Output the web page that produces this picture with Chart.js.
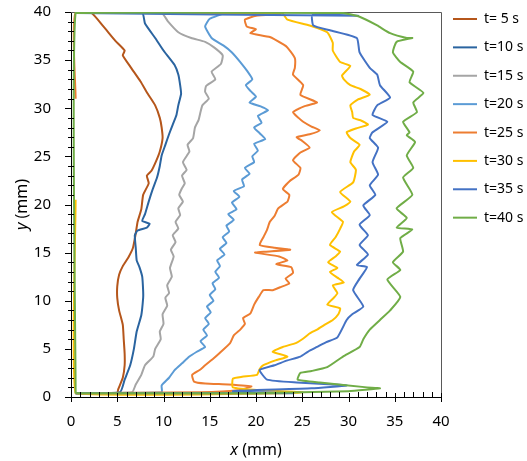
<!DOCTYPE html>
<html>
<head>
<meta charset="utf-8">
<script src="https://cdn.jsdelivr.net/npm/chart.js@4.4.1/dist/chart.umd.min.js"></script>
<style>
  html, body { margin: 0; background: #fff; }
  #wrap { width: 527px; height: 461px; }
</style>
</head>
<body>
<div id="wrap"><canvas id="chart"></canvas></div>
<script>
// front positions [x mm, y mm] (top -> bottom, then along the edges)
const labels = ["t= 5 s", "t=10 s", "t=15 s", "t=20 s", "t=25 s", "t=30 s", "t=35 s", "t=40 s"];
const colors = ["#B5561B", "#2A64A0", "#A5A5A5", "#5B9BD5", "#ED7D31", "#FFC000", "#4472C4", "#70AD47"];
const xTicks = [0, 5, 10, 15, 20, 25, 30, 35, 40];
const yTicks = [0, 5, 10, 15, 20, 25, 30, 35, 40];

const t5 = [[0.5,39.9],[2.2,39.9],[3.5,38.5],[4.8,37],[5.8,36],[5.6,35.5],[6.5,34.2],[7.5,32.8],[8.3,31.5],[9.1,30.3],
  [9.6,29],[9.8,28],[9.9,26.9],[9.6,25.5],[9.2,24.5],[8.7,23.5],[8.2,23],[8.4,22.2],[7.8,21],[7.6,19.5],[7.2,18.2],
  [7.0,17],[6.7,15.5],[6.2,14.5],[5.6,13.6],[5.2,12.7],[5.0,11.5],[5.0,10.3],[5.2,9],[5.6,7.5],[5.7,6],[5.8,4.5],
  [5.8,3.3],[5.6,2],[5.1,0.8],[5.0,0.4],[0.5,0.4]];
const t10 = [[0.5,39.9],[7.7,39.9],[8.0,38.8],[9.1,37.3],[10.0,36],[11.2,34.5],[11.6,33.5],[11.8,32.4],[11.9,31.5],
  [11.6,30.3],[11.4,29.3],[11.0,28.3],[10.6,27.3],[10.2,26.2],[9.8,25.1],[9.6,24],[9.3,22.8],[8.8,21.5],[8.4,20.3],
  [8.0,19],[7.7,18.3],[8.5,18.0],[8.2,17.6],[7.2,17.3],[6.9,16.8],[7.0,15.5],[7.1,14.2],[7.4,13.5],[7.7,12.5],
  [7.8,11],[7.8,10.3],[7.6,8.5],[7.1,6.8],[6.8,5],[6.4,3.3],[5.8,1.8],[5.3,0.5],[0.5,0.4]];
const t15 = [[0.5,39.9],[9.8,39.9],[10.5,39],[11.6,37.9],[13,37.3],[14.5,36.9],[15.5,36.3],[16.4,35.5],[16.2,34.6],
  [15.2,33.8],[15.6,33],[14.6,32.3],[14.5,31.7],[14.9,31],[14.2,30.3],[14.0,29.6],[13.8,28.8],[13.4,28],[13.2,26.9],
  [12.6,26.2],[12.8,25.5],[12.1,24.4],[12.5,23.6],[12.0,23],[12.3,22.2],[12.0,21.7],[11.7,21],[12.1,20.3],[11.6,19.6],
  [11.8,18.9],[11.3,18.2],[11.6,17.5],[11.0,16.8],[11.3,16.1],[10.8,15.3],[11.1,14.6],[10.7,13.4],[10.9,12.5],
  [10.4,11.6],[10.6,10.8],[10.2,10.3],[10.4,9.5],[9.9,8.6],[10.0,7.6],[9.6,6.8],[9.7,6],[9.1,5],[8.9,4.2],[8.0,3.3],
  [7.6,2.3],[7.0,1.3],[6.6,0.5],[0.5,0.4]];
const t20 = [[0.5,39.9],[16.5,39.9],[15.0,39.3],[14.5,38.5],[15.2,37.3],[16.5,36.5],[17.4,35.8],[18.3,34.8],[19.1,33.8],
  [19.6,33],[18.9,32.4],[19.4,31.8],[20.0,31.2],[19.3,30.6],[20.5,30.2],[21.3,29.8],[20.2,29.2],[20.6,28.5],[19.8,28],
  [20.4,27.4],[21.0,26.8],[19.8,26.3],[20.2,25.6],[19.6,25],[19.8,24.4],[18.8,23.8],[19.3,23.2],[18.5,22.6],[18.7,21.9],
  [17.6,21.4],[18.2,20.8],[17.4,20.2],[17.9,19.5],[17.0,19],[17.6,18.4],[16.8,17.8],[17.1,17.2],[16.4,16.6],[16.8,16],
  [16.1,15.4],[16.6,14.8],[15.8,14.2],[16.1,13.6],[15.6,13],[16.0,12.4],[15.3,11.8],[15.6,11.2],[15.0,10.6],[15.4,10],
  [14.7,9.4],[15.1,8.8],[14.5,8.2],[14.9,7.6],[14.3,7],[14.7,6.4],[14.0,5.8],[14.5,5.2],[13.6,4.7],[12.8,4.2],
  [12.0,3.5],[11.2,2.8],[10.6,2.0],[9.8,1.2],[9.8,0.5],[0.5,0.4]];
const t25 = [[0.5,31],[0.5,39.9],[22.6,39.8],[20.0,39.6],[18.8,39.2],[19.0,38.5],[20.0,38.2],[19.4,37.8],[21.5,37.4],
  [23.0,36.6],[23.4,36.3],[24.2,35.2],[24.2,34.2],[24.0,33.5],[25.1,32.4],[24.8,31.4],[26.6,30.6],[25.2,30.2],
  [24.0,29.6],[24.6,29],[25.1,28.6],[26.0,28.1],[26.9,27.7],[25.8,27.3],[24.4,27.0],[25.0,26.6],[25.8,25.9],
  [24.8,25.4],[24.0,24.6],[24.8,23.8],[24.6,23.1],[23.6,22.4],[22.9,21.6],[23.6,21],[23.4,20.3],[22.4,19.6],
  [22.0,18.8],[21.5,18.2],[21.2,17.4],[20.8,16.6],[20.4,15.8],[22.0,15.5],[23.7,15.3],[21.0,15.1],[19.9,15.0],
  [22.5,14.6],[23.4,14.2],[22.2,13.8],[23.8,13.5],[24.0,12.9],[23.2,12.3],[23.6,11.8],[22.6,11.4],[21.8,11.1],
  [20.8,11.1],[20.3,10.4],[19.8,9.6],[19.4,8.7],[18.6,8.2],[18.8,7.6],[18.3,7],[17.6,6.4],[17.2,5.6],[16.1,4.6],
  [15.4,4.0],[14.5,3.3],[13.9,2.8],[13.1,2.3],[13.3,1.6],[14.5,1.4],[17.0,1.3],[19.5,1.1],[18.0,0.7],[14,0.5],[0.5,0.4]];
const t30 = [[0.5,39.9],[22.8,39.9],[23.4,39.2],[25.8,38.6],[27.7,37.9],[28.3,36.8],[28.3,36.0],[29.1,34.8],[30.2,34.4],
  [29.3,33.4],[29.5,33.0],[30.2,32.4],[31.3,32.0],[32.3,31.4],[31.0,30.9],[30.2,30.3],[30.4,29.6],[30.5,29.0],
  [31.4,28.7],[32.1,28.3],[30.8,27.9],[29.8,27.5],[30.2,26.9],[31.2,26.2],[30.6,25.5],[30.2,24.4],[30.8,23.6],
  [30.5,22.3],[29.1,21.3],[30.2,20.3],[29.5,19.8],[28.2,19.2],[29.4,18.2],[29.1,17.5],[28.6,16.6],[28.0,15.8],
  [29.1,15.1],[28.6,14.6],[27.8,14.0],[28.8,13.4],[28.0,13.0],[28.8,12.4],[29.5,11.9],[28.3,11.6],[28.8,10.8],
  [28.4,10.3],[27.7,9.6],[29.1,9.2],[28.9,8.6],[28.3,8.0],[27.4,7.5],[26.6,7.0],[25.8,6.6],[25.0,6.0],[24.3,5.6],
  [22.9,5.2],[21.8,4.7],[23.4,4.2],[22.1,3.8],[20.8,3.3],[20.4,2.9],[20.1,2.3],[18.5,2.1],[17.5,1.9],[17.5,1.0],
  [20.5,0.7],[25.0,0.5],[23,0.4],[0.5,0.4],[0.5,20.5]];
const t35 = [[0.5,39.9],[31.0,39.6],[26.1,39.7],[26.2,38.6],[28.0,38.1],[30.9,37.3],[31.2,35.8],[32.3,34.2],[33.1,33.5],
  [33.4,32.4],[34.5,31.1],[33.1,30.3],[32.6,29.3],[34.2,28.6],[32.6,27.5],[32.3,26.9],[33.2,25.9],[32.6,24.4],
  [33.2,23.1],[32.3,22],[32.9,21],[31.6,19.9],[32.3,18.9],[31.2,17.9],[32.1,16.8],[31.2,15.8],[32.1,14.8],[30.9,13.7],
  [32.0,13.5],[31.2,12.3],[30.5,11.1],[31.6,9.4],[30.4,8.6],[29.8,8.0],[28.8,6.2],[27.6,5.7],[26.6,5.2],[25.6,4.7],
  [24.8,4.2],[23.4,3.8],[22.0,3.3],[20.4,2.8],[21.2,1.8],[24.4,1.5],[28.3,1.3],[29.8,1.2],[26,0.9],[17.5,0.6],
  [24,0.4],[0.5,0.4]];
const t40 = [[0.5,0.4],[0.5,39.9],[29.4,39.9],[31.2,39.5],[33.1,38.6],[34.5,37.8],[36.3,37.3],[36.9,37.3],[35.2,36.9],
  [34.8,35.8],[35.6,34.8],[37.0,33.8],[36.6,32.7],[38.1,31.6],[37.0,30.6],[37.4,29.6],[35.9,28.6],[36.6,27.5],
  [36.3,27.2],[37.2,26.5],[36.3,25.1],[37.0,23.8],[35.9,22.8],[36.9,21],[35.2,19.6],[36.3,18.6],[35.2,17.6],
  [36.9,17.4],[35.6,16.5],[35.9,15.1],[34.8,14],[35.6,13.2],[34.2,12.2],[35.6,10.4],[34.5,9],[33.4,8],[32.3,7],
  [31.6,6],[31.2,5.2],[29.4,4.2],[27.7,3.1],[26.0,2.7],[24.8,2.5],[24.5,1.8],[26.9,1.5],[32.0,1.0],[33.4,0.9],
  [30,0.6],[20,0.4],[0.5,0.4]];

const series = [t5, t10, t15, t20, t25, t30, t35, t40];
const FONT = "'Noto Sans', sans-serif";

// plot frame, tick marks and axis titles (italic x / y)
const decor = {
  id: "decor",
  beforeDatasetsDraw(chart) {
    const { ctx, chartArea: a } = chart;
    ctx.save();
    ctx.strokeStyle = "#595959";
    ctx.lineWidth = 1;
    ctx.beginPath();
    ctx.moveTo(a.left, a.top + 0.5);
    ctx.lineTo(a.right + 0.5, a.top + 0.5);
    ctx.lineTo(a.right + 0.5, a.bottom);
    ctx.stroke();
    ctx.restore();
  },
  afterDraw(chart) {
    const { ctx, chartArea: a, scales } = chart;
    const x = scales.x, y = scales.y;
    ctx.save();
    ctx.strokeStyle = "#000";
    ctx.lineWidth = 1;
    ctx.beginPath();
    for (let v = 0; v <= 40; v++) {
      const px = Math.round(x.getPixelForValue(v)) + 0.5;
      const py = Math.round(y.getPixelForValue(v)) + 0.5;
      if (v % 5 === 0) {
        ctx.moveTo(px, a.bottom - 4); ctx.lineTo(px, a.bottom + 5);
        ctx.moveTo(a.left - 6, py); ctx.lineTo(a.left, py);
      } else {
        ctx.moveTo(px, a.bottom - 5); ctx.lineTo(px, a.bottom);
        ctx.moveTo(a.left - 3, py); ctx.lineTo(a.left + 3, py);
      }
    }
    ctx.stroke();

    ctx.fillStyle = "#000";
    ctx.textBaseline = "middle";
    const it = "italic 16px " + FONT, rg = "16px " + FONT;
    ctx.font = it; const wx = ctx.measureText("x").width;
    ctx.font = rg; const wr = ctx.measureText(" (mm)").width;
    let sx = (a.left + a.right) / 2 - (wx + wr) / 2;
    ctx.font = it; ctx.fillText("x", sx, 450);
    ctx.font = rg; ctx.fillText(" (mm)", sx + wx, 450);

    ctx.translate(22, (a.top + a.bottom) / 2);
    ctx.rotate(-Math.PI / 2);
    ctx.font = it; const wy = ctx.measureText("y").width;
    sx = -(wy + wr) / 2;
    ctx.fillText("y", sx, 0);
    ctx.font = rg; ctx.fillText(" (mm)", sx + wy, 0);
    ctx.restore();
  }
};

new Chart(document.getElementById("chart"), {
  type: "scatter",
  data: {
    datasets: series.map((pts, i) => ({
      label: labels[i],
      data: pts.map(p => ({ x: p[0], y: p[1] })),
      borderColor: colors[i],
      backgroundColor: colors[i],
      borderWidth: 2,
      showLine: true,
      pointRadius: 0,
      tension: 0.15,
      order: series.length - i
    }))
  },
  options: {
    responsive: true,
    maintainAspectRatio: false,
    animation: false,
    layout: { padding: 0 },
    plugins: {
      tooltip: { enabled: false },
      legend: {
        position: "right",
        align: "start",
        maxWidth: 86,
        labels: {
          usePointStyle: true,
          pointStyle: "line",
          pointStyleWidth: 24,
          padding: 12,
          color: "#000",
          font: { family: FONT, size: 14, lineHeight: 1.17 },
          // one-line arrays so the row height follows the font line height
          generateLabels: chart => Chart.defaults.plugins.legend.labels.generateLabels(chart)
            .sort((a, b) => a.datasetIndex - b.datasetIndex)
            .map(l => Object.assign(l, { text: [l.text] }))
        }
      }
    },
    scales: {
      x: {
        type: "linear",
        min: 0, max: 40,
        afterBuildTicks: s => { s.ticks = xTicks.map(v => ({ value: v })); },
        afterFit: s => { s.height = 64; s.paddingRight = 0; },
        ticks: { padding: 16, color: "#000", font: { family: FONT, size: 15 } },
        grid: { display: true, drawOnChartArea: false, drawTicks: false },
        border: { display: true, color: "#000", width: 1 }
      },
      y: {
        type: "linear",
        min: 0, max: 40,
        afterBuildTicks: s => { s.ticks = yTicks.map(v => ({ value: v })); },
        afterFit: s => { s.width = 71; s.paddingTop = 12; s.paddingBottom = 0; },
        ticks: { padding: 20, color: "#000", font: { family: FONT, size: 15 } },
        grid: { display: true, drawOnChartArea: false, drawTicks: false },
        border: { display: true, color: "#000", width: 1 }
      }
    }
  },
  plugins: [decor]
});
</script>
</body>
</html>
